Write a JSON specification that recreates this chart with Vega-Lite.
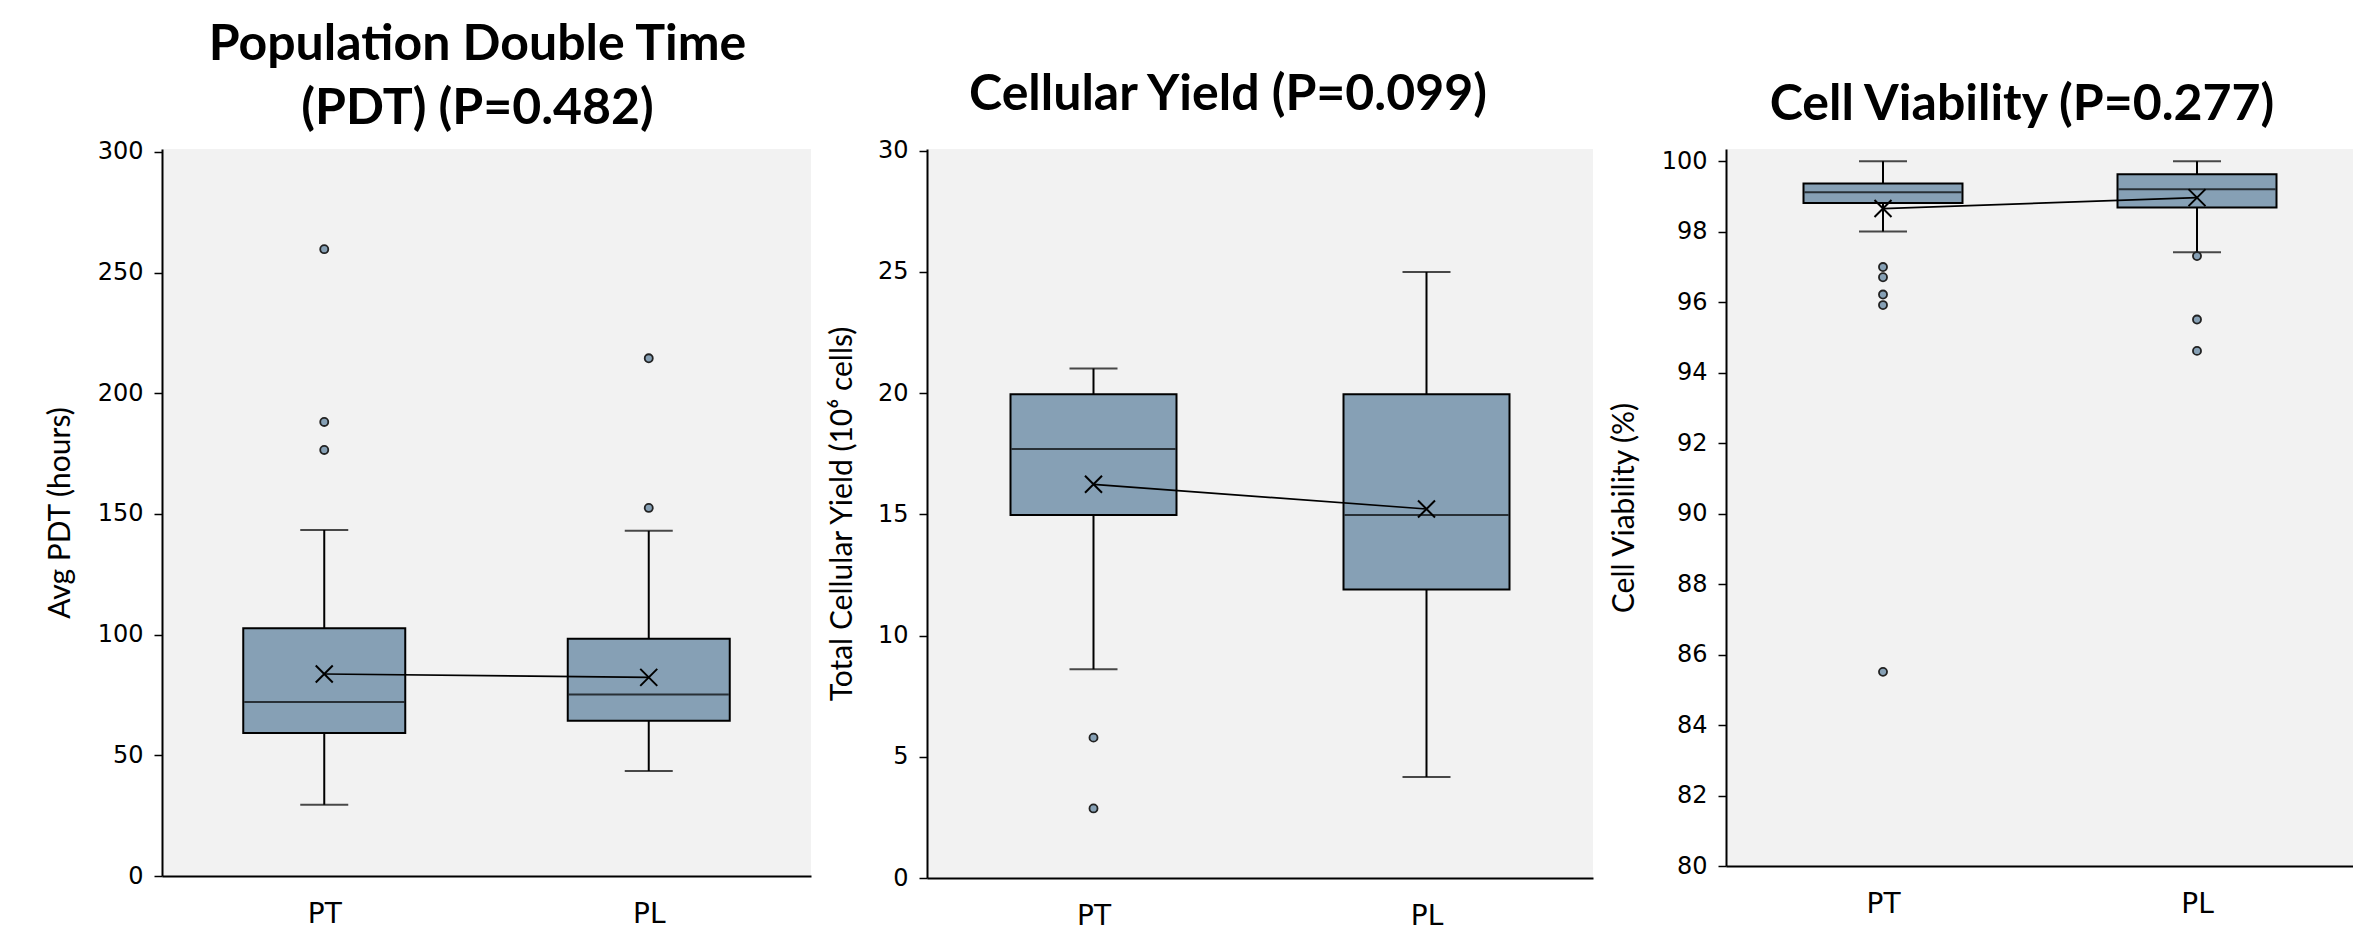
{
  "$schema": "https://vega.github.io/schema/vega-lite/v6.json",
  "background": "white",
  "padding": {"left": 45, "top": 19, "right": 0, "bottom": 0},
  "spacing": 16,
  "datasets": {
    "stats": [
      {"panel": "PDT", "group": "PT", "lower": 29.5, "q1": 59.2, "median": 72.1, "q3": 102.6, "upper": 143.3, "mean": 83.7},
      {"panel": "PDT", "group": "PL", "lower": 43.5, "q1": 64.3, "median": 75.2, "q3": 98.3, "upper": 143.0, "mean": 82.3},
      {"panel": "Yield", "group": "PT", "lower": 8.61, "q1": 14.97, "median": 17.7, "q3": 19.95, "upper": 21.02, "mean": 16.24},
      {"panel": "Yield", "group": "PL", "lower": 4.17, "q1": 11.9, "median": 14.97, "q3": 19.95, "upper": 25.0, "mean": 15.22},
      {"panel": "Viab", "group": "PT", "lower": 98.01, "q1": 98.82, "median": 99.12, "q3": 99.37, "upper": 100.0, "mean": 98.66},
      {"panel": "Viab", "group": "PL", "lower": 97.42, "q1": 98.69, "median": 99.21, "q3": 99.63, "upper": 100.0, "mean": 98.97}
    ],
    "outliers": [
      {"panel": "PDT", "group": "PT", "value": 259.7},
      {"panel": "PDT", "group": "PT", "value": 188.1},
      {"panel": "PDT", "group": "PT", "value": 176.5},
      {"panel": "PDT", "group": "PL", "value": 214.5},
      {"panel": "PDT", "group": "PL", "value": 152.5},
      {"panel": "Yield", "group": "PT", "value": 5.79},
      {"panel": "Yield", "group": "PT", "value": 2.87},
      {"panel": "Viab", "group": "PT", "value": 97.0},
      {"panel": "Viab", "group": "PT", "value": 96.71},
      {"panel": "Viab", "group": "PT", "value": 96.22},
      {"panel": "Viab", "group": "PT", "value": 95.92},
      {"panel": "Viab", "group": "PT", "value": 85.51},
      {"panel": "Viab", "group": "PL", "value": 97.31},
      {"panel": "Viab", "group": "PL", "value": 95.51},
      {"panel": "Viab", "group": "PL", "value": 94.62}
    ]
  },
  "config": {
    "view": {"fill": "#F2F2F2", "stroke": null},
    "axis": {"grid": false, "domainColor": "black", "domainWidth": 2, "tickColor": "black", "labelColor": "black", "titleColor": "black", "labelFont": "DejaVu Sans", "titleFont": "Lato", "titleFontWeight": "normal"},
    "axisY": {"tickSize": 8, "tickWidth": 1.5, "labelFontSize": 24, "labelPadding": 11, "titleFontSize": 30},
    "axisX": {"ticks": false, "labelFontSize": 28, "labelPadding": 24, "labelAngle": 0},
    "title": {"font": "Lato", "fontSize": 50, "fontWeight": "bold", "color": "black", "anchor": "middle", "baseline": "bottom", "lineHeight": 64}
  },
  "hconcat": [
    {
      "width": 649, "height": 727,
      "title": {"text": ["Population Double Time", "(PDT) (P=0.482)"], "offset": 6, "dx": -9},
      "encoding": {"x": {"field": "group", "type": "nominal", "sort": ["PT", "PL"], "scale": {"type": "point", "padding": 0.5}, "axis": {"title": null}}},
      "layer": [
        {"data": {"name": "stats"}, "transform": [{"filter": "datum.panel === 'PDT'"}], "mark": {"type": "rule", "color": "black", "strokeWidth": 2},
         "encoding": {"y": {"field": "lower", "type": "quantitative", "scale": {"domain": [0, 301.2], "nice": false, "zero": false}, "axis": {"values": [0, 50, 100, 150, 200, 250, 300], "titlePadding": 22}, "title": "Avg PDT (hours)"}, "y2": {"field": "upper"}}},
        {"data": {"name": "stats"}, "transform": [{"filter": "datum.panel === 'PDT'"}], "mark": {"type": "tick", "color": "black", "size": 48, "thickness": 2},
         "encoding": {"y": {"field": "lower", "type": "quantitative", "scale": {"domain": [0, 301.2], "nice": false, "zero": false}, "title": "Avg PDT (hours)"}}},
        {"data": {"name": "stats"}, "transform": [{"filter": "datum.panel === 'PDT'"}], "mark": {"type": "tick", "color": "black", "size": 48, "thickness": 2},
         "encoding": {"y": {"field": "upper", "type": "quantitative", "scale": {"domain": [0, 301.2], "nice": false, "zero": false}, "title": "Avg PDT (hours)"}}},
        {"data": {"name": "stats"}, "transform": [{"filter": "datum.panel === 'PDT'"}], "mark": {"type": "bar", "size": 162, "fill": "#86A0B5", "stroke": "black", "strokeWidth": 2},
         "encoding": {"y": {"field": "q1", "type": "quantitative", "scale": {"domain": [0, 301.2], "nice": false, "zero": false}, "title": "Avg PDT (hours)"}, "y2": {"field": "q3"}}},
        {"data": {"name": "stats"}, "transform": [{"filter": "datum.panel === 'PDT'"}], "mark": {"type": "tick", "color": "black", "size": 160, "thickness": 2},
         "encoding": {"y": {"field": "median", "type": "quantitative", "scale": {"domain": [0, 301.2], "nice": false, "zero": false}, "title": "Avg PDT (hours)"}}},
        {"data": {"name": "outliers"}, "transform": [{"filter": "datum.panel === 'PDT'"}], "mark": {"type": "point", "shape": "circle", "filled": true, "fill": "#86A0B5", "stroke": "#222222", "strokeWidth": 1.8, "size": 65, "opacity": 1},
         "encoding": {"y": {"field": "value", "type": "quantitative", "scale": {"domain": [0, 301.2], "nice": false, "zero": false}, "title": "Avg PDT (hours)"}}},
        {"data": {"name": "stats"}, "transform": [{"filter": "datum.panel === 'PDT'"}], "mark": {"type": "line", "color": "black", "strokeWidth": 1.7},
         "encoding": {"y": {"field": "mean", "type": "quantitative", "scale": {"domain": [0, 301.2], "nice": false, "zero": false}, "title": "Avg PDT (hours)"}}},
        {"data": {"name": "stats"}, "transform": [{"filter": "datum.panel === 'PDT'"}], "mark": {"type": "point", "shape": "M-1,-1L1,1M-1,1L1,-1", "filled": false, "stroke": "black", "strokeWidth": 2, "size": 289, "opacity": 1},
         "encoding": {"y": {"field": "mean", "type": "quantitative", "scale": {"domain": [0, 301.2], "nice": false, "zero": false}, "title": "Avg PDT (hours)"}}}
      ]
    },
    {
      "width": 666, "height": 729,
      "title": {"text": "Cellular Yield (P=0.099)", "offset": 19, "dx": -32},
      "encoding": {"x": {"field": "group", "type": "nominal", "sort": ["PT", "PL"], "scale": {"type": "point", "padding": 0.5}, "axis": {"title": null}}},
      "layer": [
        {"data": {"name": "stats"}, "transform": [{"filter": "datum.panel === 'Yield'"}], "mark": {"type": "rule", "color": "black", "strokeWidth": 2},
         "encoding": {"y": {"field": "lower", "type": "quantitative", "scale": {"domain": [0, 30.07], "nice": false, "zero": false}, "axis": {"values": [0, 5, 10, 15, 20, 25, 30], "titlePadding": 20}, "title": "Total Cellular Yield (10⁶ cells)"}, "y2": {"field": "upper"}}},
        {"data": {"name": "stats"}, "transform": [{"filter": "datum.panel === 'Yield'"}], "mark": {"type": "tick", "color": "black", "size": 48, "thickness": 2},
         "encoding": {"y": {"field": "lower", "type": "quantitative", "scale": {"domain": [0, 30.07], "nice": false, "zero": false}, "title": "Total Cellular Yield (10⁶ cells)"}}},
        {"data": {"name": "stats"}, "transform": [{"filter": "datum.panel === 'Yield'"}], "mark": {"type": "tick", "color": "black", "size": 48, "thickness": 2},
         "encoding": {"y": {"field": "upper", "type": "quantitative", "scale": {"domain": [0, 30.07], "nice": false, "zero": false}, "title": "Total Cellular Yield (10⁶ cells)"}}},
        {"data": {"name": "stats"}, "transform": [{"filter": "datum.panel === 'Yield'"}], "mark": {"type": "bar", "size": 166, "fill": "#86A0B5", "stroke": "black", "strokeWidth": 2},
         "encoding": {"y": {"field": "q1", "type": "quantitative", "scale": {"domain": [0, 30.07], "nice": false, "zero": false}, "title": "Total Cellular Yield (10⁶ cells)"}, "y2": {"field": "q3"}}},
        {"data": {"name": "stats"}, "transform": [{"filter": "datum.panel === 'Yield'"}], "mark": {"type": "tick", "color": "black", "size": 164, "thickness": 2},
         "encoding": {"y": {"field": "median", "type": "quantitative", "scale": {"domain": [0, 30.07], "nice": false, "zero": false}, "title": "Total Cellular Yield (10⁶ cells)"}}},
        {"data": {"name": "outliers"}, "transform": [{"filter": "datum.panel === 'Yield'"}], "mark": {"type": "point", "shape": "circle", "filled": true, "fill": "#86A0B5", "stroke": "#222222", "strokeWidth": 1.8, "size": 65, "opacity": 1},
         "encoding": {"y": {"field": "value", "type": "quantitative", "scale": {"domain": [0, 30.07], "nice": false, "zero": false}, "title": "Total Cellular Yield (10⁶ cells)"}}},
        {"data": {"name": "stats"}, "transform": [{"filter": "datum.panel === 'Yield'"}], "mark": {"type": "line", "color": "black", "strokeWidth": 1.7},
         "encoding": {"y": {"field": "mean", "type": "quantitative", "scale": {"domain": [0, 30.07], "nice": false, "zero": false}, "title": "Total Cellular Yield (10⁶ cells)"}}},
        {"data": {"name": "stats"}, "transform": [{"filter": "datum.panel === 'Yield'"}], "mark": {"type": "point", "shape": "M-1,-1L1,1M-1,1L1,-1", "filled": false, "stroke": "black", "strokeWidth": 2, "size": 289, "opacity": 1},
         "encoding": {"y": {"field": "mean", "type": "quantitative", "scale": {"domain": [0, 30.07], "nice": false, "zero": false}, "title": "Total Cellular Yield (10⁶ cells)"}}}
      ]
    },
    {
      "width": 628, "height": 717,
      "title": {"text": "Cell Viability (P=0.277)", "offset": 19, "dx": -18},
      "encoding": {"x": {"field": "group", "type": "nominal", "sort": ["PT", "PL"], "scale": {"type": "point", "padding": 0.5}, "axis": {"title": null}}},
      "layer": [
        {"data": {"name": "stats"}, "transform": [{"filter": "datum.panel === 'Viab'"}], "mark": {"type": "rule", "color": "black", "strokeWidth": 2},
         "encoding": {"y": {"field": "lower", "type": "quantitative", "scale": {"domain": [80, 100.35], "nice": false, "zero": false}, "axis": {"values": [80, 82, 84, 86, 88, 90, 92, 94, 96, 98, 100], "titlePadding": 22}, "title": "Cell Viability (%)"}, "y2": {"field": "upper"}}},
        {"data": {"name": "stats"}, "transform": [{"filter": "datum.panel === 'Viab'"}], "mark": {"type": "tick", "color": "black", "size": 48, "thickness": 2},
         "encoding": {"y": {"field": "lower", "type": "quantitative", "scale": {"domain": [80, 100.35], "nice": false, "zero": false}, "title": "Cell Viability (%)"}}},
        {"data": {"name": "stats"}, "transform": [{"filter": "datum.panel === 'Viab'"}], "mark": {"type": "tick", "color": "black", "size": 48, "thickness": 2},
         "encoding": {"y": {"field": "upper", "type": "quantitative", "scale": {"domain": [80, 100.35], "nice": false, "zero": false}, "title": "Cell Viability (%)"}}},
        {"data": {"name": "stats"}, "transform": [{"filter": "datum.panel === 'Viab'"}], "mark": {"type": "bar", "size": 159, "fill": "#86A0B5", "stroke": "black", "strokeWidth": 2},
         "encoding": {"y": {"field": "q1", "type": "quantitative", "scale": {"domain": [80, 100.35], "nice": false, "zero": false}, "title": "Cell Viability (%)"}, "y2": {"field": "q3"}}},
        {"data": {"name": "stats"}, "transform": [{"filter": "datum.panel === 'Viab'"}], "mark": {"type": "tick", "color": "black", "size": 157, "thickness": 2},
         "encoding": {"y": {"field": "median", "type": "quantitative", "scale": {"domain": [80, 100.35], "nice": false, "zero": false}, "title": "Cell Viability (%)"}}},
        {"data": {"name": "outliers"}, "transform": [{"filter": "datum.panel === 'Viab'"}], "mark": {"type": "point", "shape": "circle", "filled": true, "fill": "#86A0B5", "stroke": "#222222", "strokeWidth": 1.8, "size": 65, "opacity": 1},
         "encoding": {"y": {"field": "value", "type": "quantitative", "scale": {"domain": [80, 100.35], "nice": false, "zero": false}, "title": "Cell Viability (%)"}}},
        {"data": {"name": "stats"}, "transform": [{"filter": "datum.panel === 'Viab'"}], "mark": {"type": "line", "color": "black", "strokeWidth": 1.7},
         "encoding": {"y": {"field": "mean", "type": "quantitative", "scale": {"domain": [80, 100.35], "nice": false, "zero": false}, "title": "Cell Viability (%)"}}},
        {"data": {"name": "stats"}, "transform": [{"filter": "datum.panel === 'Viab'"}], "mark": {"type": "point", "shape": "M-1,-1L1,1M-1,1L1,-1", "filled": false, "stroke": "black", "strokeWidth": 2, "size": 289, "opacity": 1},
         "encoding": {"y": {"field": "mean", "type": "quantitative", "scale": {"domain": [80, 100.35], "nice": false, "zero": false}, "title": "Cell Viability (%)"}}}
      ]
    }
  ]
}
